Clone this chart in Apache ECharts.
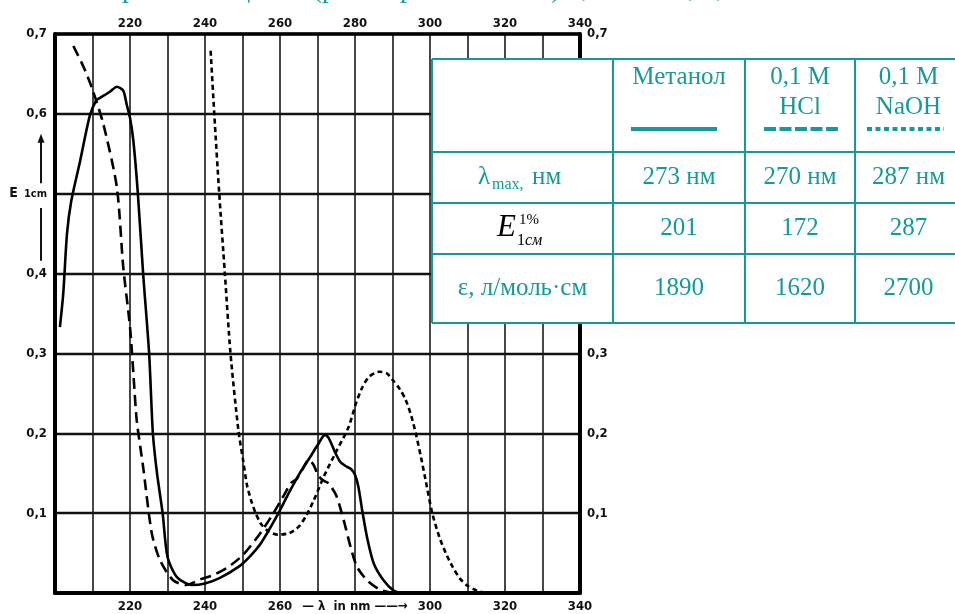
<!DOCTYPE html>
<html><head><meta charset="utf-8">
<script src="https://cdn.jsdelivr.net/npm/echarts@6/dist/echarts.min.js"></script>
<style>html,body{margin:0;padding:0;background:#fff;overflow:hidden}#c{width:955px;height:614px}</style>
</head><body><div id="c"></div>
<script>
// ---- data (wavelength nm, E 1cm) ----
const methanol = [[201.3,0.333],[202.2,0.375],[203.2,0.45],[204.3,0.49],[206.7,0.541],[209.3,0.598],[211,0.617],[212,0.62],[214.7,0.628],[216.5,0.634],[218.2,0.629],[219.1,0.612],[220,0.595],[220.9,0.566],[222.1,0.5],[223.5,0.4],[225.1,0.3],[226.1,0.2],[227.2,0.15],[228.7,0.1],[230,0.045],[232.5,0.02],[236.5,0.01],[240,0.012],[244,0.019],[249,0.033],[252,0.046],[255,0.063],[259,0.095],[262,0.122],[265,0.148],[268,0.17],[270,0.185],[272,0.198],[273,0.194],[274.8,0.175],[276.1,0.164],[277.5,0.159],[279,0.155],[280,0.148],[280.9,0.133],[281.9,0.104],[283.2,0.07],[285,0.037],[287.6,0.016],[290.3,0.003],[292,0.0]];
const hcl = [[204.9,0.685],[207.5,0.66],[209.8,0.633],[212.9,0.587],[216.5,0.508],[218.2,0.408],[220,0.333],[220.9,0.275],[221.8,0.216],[223.5,0.158],[225.8,0.075],[228,0.041],[231.5,0.016],[235,0.01],[238.7,0.017],[242,0.022],[246,0.032],[250,0.047],[254,0.07],[258,0.098],[261,0.122],[263,0.138],[264.5,0.143],[266,0.155],[267.7,0.167],[269,0.16],[270.2,0.147],[271.5,0.141],[273,0.137],[275,0.122],[277,0.091],[278.8,0.058],[280.5,0.033],[283.2,0.016],[286.7,0.004],[290,0.0]];
const naoh = [[241.5,0.679],[242.5,0.598],[243.8,0.5],[245.3,0.4],[246.8,0.3],[248.9,0.204],[250.2,0.165],[251.2,0.135],[252.5,0.113],[253.5,0.1],[255,0.086],[257,0.077],[259.5,0.073],[262.5,0.075],[265,0.083],[267,0.097],[269,0.116],[271.7,0.146],[275.2,0.179],[278.3,0.208],[280.3,0.238],[282,0.258],[283.8,0.271],[286.5,0.277],[288.5,0.275],[290,0.267],[292,0.255],[293.5,0.242],[295,0.222],[296.2,0.2],[297.6,0.17],[298.8,0.142],[300.6,0.1],[302.5,0.07],[304.2,0.05],[306,0.033],[308,0.018],[310,0.009],[312.5,0.003],[315,0.0]];

// ---- tick labels ----
const xTopTicks = [220,240,260,280,300,320,340];
const xBottomTicks = [220,240,260,300,320,340];
const xAxisNameAt = 280;
const xAxisName = '— λ  in nm ——→';
const yTickValues = [0.1,0.2,0.3,0.4,0.5,0.6,0.7];
const yLeftLabels = ['0,1','0,2','0,3','0,4','E 1cm','0,6','0,7'];
const yRightLabels = ['0,1','0,2','0,3','0,4','0,5','0,6','0,7'];

// ---- table ----
const colHeaders = ['Метанол','0,1 М\nHCl','0,1 М\nNaOH'];
const lambdaMax = ['273 нм','270 нм','287 нм'];
const e1cm = ['201','172','287'];
const epsilon = ['1890','1620','2700'];
const epsLabel = 'ε, л/моль·см';
const topCaption = 'Спектры поглощения (раствор в метаноле) 0,1 М HCl, 0,1 М NaOH';

const TEAL = '#16999a';
const AX_FONT = "'Liberation Sans Narrow','DejaVu Sans Condensed','Liberation Sans',sans-serif";
const SERIF = "'Liberation Serif','DejaVu Serif',serif";

function yLab(arr){
  return function(v){
    for (let i=0;i<yTickValues.length;i++) if (Math.abs(v-yTickValues[i])<1e-6) return arr[i]==='E 1cm' ? '{e|E}{s|1cm}' : arr[i];
    return '';
  };
}
const axLabelBase = {color:'#111', fontFamily:AX_FONT, fontSize:13, fontWeight:'bold'};

const chart = echarts.init(document.getElementById('c'), null, {renderer:'canvas'});
chart.setOption({
  backgroundColor:'#fff',
  animation:false,
  grid:{left:55, right:375, top:34, bottom:21},
  xAxis:[
    {type:'value', min:200, max:340, interval:10, position:'bottom',
     axisLine:{show:true, onZero:false, lineStyle:{color:'#000', width:4}},
     axisTick:{show:false},
     splitLine:{show:true, lineStyle:{color:'#1a1a1a', width:1.6}},
     axisLabel:Object.assign({}, axLabelBase, {margin:7, showMinLabel:true, showMaxLabel:true,
       formatter:v => v===xAxisNameAt ? xAxisName : (xBottomTicks.indexOf(v)>=0 ? String(v) : '')})},
    {type:'value', min:200, max:340, interval:10, position:'top',
     axisLine:{show:true, onZero:false, lineStyle:{color:'#000', width:3.5}},
     axisTick:{show:false}, splitLine:{show:false},
     axisLabel:Object.assign({}, axLabelBase, {margin:4, showMinLabel:true, showMaxLabel:true,
       formatter:v => xTopTicks.indexOf(v)>=0 ? String(v) : ''})}
  ],
  yAxis:[
    {type:'value', min:0, max:0.7, interval:0.1, position:'left',
     axisLine:{show:true, onZero:false, lineStyle:{color:'#000', width:4}},
     axisTick:{show:false},
     splitLine:{show:true, lineStyle:{color:'#111', width:2.4}},
     axisLabel:Object.assign({}, axLabelBase, {margin:8, showMinLabel:true, showMaxLabel:true, formatter:yLab(yLeftLabels),
       rich:{e:{fontFamily:AX_FONT, fontSize:14, fontWeight:'bold', color:'#111', padding:[0,6,0,0]}, s:{fontFamily:AX_FONT, fontSize:11, fontWeight:'bold', color:'#111'}}})},
    {type:'value', min:0, max:0.7, interval:0.1, position:'right',
     axisLine:{show:true, onZero:false, lineStyle:{color:'#000', width:4}},
     axisTick:{show:false}, splitLine:{show:false},
     axisLabel:Object.assign({}, axLabelBase, {margin:7, showMinLabel:true, showMaxLabel:true, formatter:yLab(yRightLabels)})}
  ],
  series:[
    {name:'Метанол', type:'line', data:methanol, showSymbol:false, smooth:0.25, clip:true,
     lineStyle:{color:'#000', width:2.6, type:'solid'}, z:5},
    {name:'0,1 M HCl', type:'line', data:hcl, showSymbol:false, smooth:0.25, clip:true,
     lineStyle:{color:'#000', width:2.6, type:[11,6]}, z:5},
    {name:'0,1 M NaOH', type:'line', data:naoh, showSymbol:false, smooth:0.25, clip:true,
     lineStyle:{color:'#000', width:2.6, type:[5,3.5]}, z:5}
  ]
});

// ---- decorations: arrow by the E label, table overlay ----
const yPx = v => chart.convertToPixel({yAxisIndex:0}, v);
const gx = chart.convertToPixel({xAxisIndex:0}, 200) - 14;
const tip = yPx(0.575);
const g = [];
g.push({type:'line', shape:{x1:gx, y1:yPx(0.513), x2:gx, y2:tip+6}, style:{stroke:'#111', lineWidth:2}, z:20});
g.push({type:'polygon', shape:{points:[[gx,tip],[gx-3.5,tip+9],[gx+3.5,tip+9]]}, style:{fill:'#111'}, z:20});
g.push({type:'line', shape:{x1:gx, y1:yPx(0.482), x2:gx, y2:yPx(0.416)}, style:{stroke:'#111', lineWidth:2}, z:20});

// top caption (cut by page edge)
g.push({type:'text', x:50, y:4, style:{text:topCaption, fill:TEAL, font:"28px "+SERIF, textVerticalAlign:'bottom', textAlign:'left'}, z:30});

const cols = [432, 613, 745, 855, 962];
const rows = [59, 152, 203, 254, 323];
g.push({type:'rect', shape:{x:cols[0], y:rows[0], width:cols[4]-cols[0], height:rows[4]-rows[0]}, style:{fill:'#fff'}, z:40});
rows.forEach(r => g.push({type:'line', shape:{x1:cols[0], y1:r, x2:cols[4], y2:r}, style:{stroke:TEAL, lineWidth:2}, z:42}));
cols.forEach(c => g.push({type:'line', shape:{x1:c, y1:rows[0], x2:c, y2:rows[4]}, style:{stroke:TEAL, lineWidth:2}, z:42}));
const cc = i => (cols[i]+cols[i+1])/2;
const font = "25px "+SERIF;
colHeaders.forEach((t,i) => g.push({type:'text', x:cc(i+1), y:62, style:{text:t, fill:TEAL, font:font, lineHeight:30, textAlign:'center', textVerticalAlign:'top'}, z:45}));
// legend samples
g.push({type:'line', shape:{x1:631, y1:129, x2:717, y2:129}, style:{stroke:TEAL, lineWidth:4}, z:45});
g.push({type:'line', shape:{x1:764, y1:129, x2:838, y2:129}, style:{stroke:TEAL, lineWidth:4, lineDash:[12,3.5]}, z:45});
g.push({type:'line', shape:{x1:867, y1:129, x2:944, y2:129}, style:{stroke:TEAL, lineWidth:4, lineDash:[5,3.5]}, z:45});
// row headers
const rc = i => (rows[i]+rows[i+1])/2;
g.push({type:'text', x:478, y:177, style:{text:'λ', fill:TEAL, font:font, textAlign:'left', textVerticalAlign:'middle'}, z:45});
g.push({type:'text', x:492, y:185, style:{text:'max,', fill:TEAL, font:"16px "+SERIF, textAlign:'left', textVerticalAlign:'middle'}, z:45});
g.push({type:'text', x:532, y:177, style:{text:'нм', fill:TEAL, font:font, textAlign:'left', textVerticalAlign:'middle'}, z:45});
g.push({type:'text', x:497, y:228, style:{text:'E', fill:'#000', font:"italic 31px "+SERIF, textAlign:'left', textVerticalAlign:'middle'}, z:45});
g.push({type:'text', x:519, y:220, style:{text:'1%', fill:'#000', font:"15px "+SERIF, textAlign:'left', textVerticalAlign:'middle'}, z:45});
g.push({type:'text', x:517, y:241, style:{text:'1', fill:'#000', font:"16px "+SERIF, textAlign:'left', textVerticalAlign:'middle'}, z:45});
g.push({type:'text', x:525, y:241, style:{text:'см', fill:'#000', font:"italic 16px "+SERIF, textAlign:'left', textVerticalAlign:'middle'}, z:45});
g.push({type:'text', x:cc(0), y:rc(3), style:{text:epsLabel, fill:TEAL, font:font, textAlign:'center', textVerticalAlign:'middle'}, z:45});
[lambdaMax, e1cm, epsilon].forEach((arr,r) => arr.forEach((t,i) =>
  g.push({type:'text', x:cc(i+1), y:rc(r+1), style:{text:t, fill:TEAL, font:font, textAlign:'center', textVerticalAlign:'middle'}, z:45})));
chart.setOption({graphic:g});
</script>
</body></html>
